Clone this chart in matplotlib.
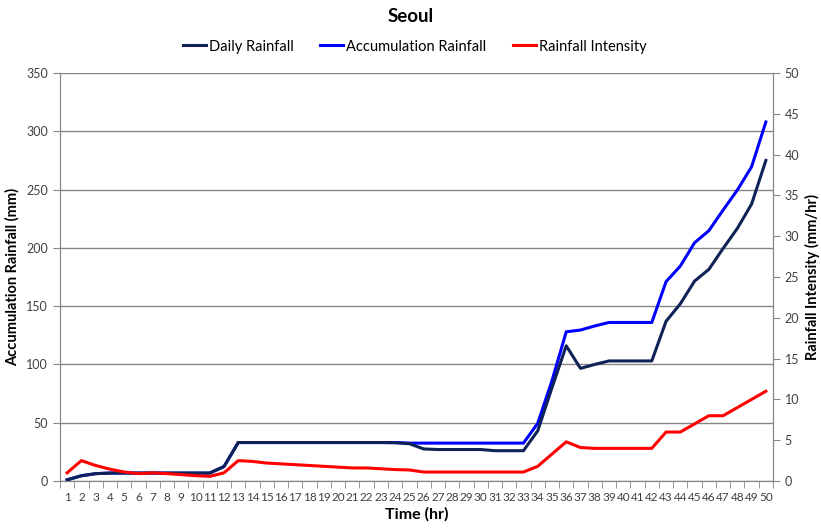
import numpy as np
import matplotlib.pyplot as plt
from matplotlib.ticker import MultipleLocator

plt.rcParams['font.family'] = ['Lato', 'DejaVu Sans']

hours = list(range(1, 51))

daily_rainfall = [1, 4.5, 6.3, 6.8, 6.8, 6.8, 6.8, 6.8, 6.8, 6.8,
                  6.8, 12.4, 33, 33, 33, 33, 33, 33, 33, 33,
                  33, 33, 33, 32.8, 32, 27.5, 27, 27, 27, 27,
                  26, 26, 26, 43, 80, 116, 96.6, 100, 103, 103,
                  103, 103, 137, 152, 171.5, 181.5, 199.5, 216.7, 237.6, 275]

accumulation_rainfall = [1, 4.5, 6.3, 6.8, 6.8, 6.8, 6.8, 6.8, 6.8, 6.8,
                         6.8, 12.4, 33, 33, 33, 33, 33, 33, 33, 33,
                         33, 33, 33, 33, 32.5, 32.5, 32.5, 32.5, 32.5, 32.5,
                         32.5, 32.5, 32.5, 49.5, 86, 128, 129.5, 133, 136, 136,
                         136, 136, 171, 184.4, 204.4, 214.7, 232.4, 249.6, 269.6, 308]

rainfall_intensity = [1.0, 2.5, 1.9, 1.45, 1.1, 0.9, 1.0, 0.9, 0.78, 0.65,
                      0.57, 1.0, 2.5, 2.4, 2.2, 2.1, 2.0, 1.9, 1.8, 1.7,
                      1.6, 1.6, 1.5, 1.4, 1.35, 1.1, 1.1, 1.1, 1.1, 1.1,
                      1.1, 1.1, 1.1, 1.8, 3.3, 4.8, 4.1, 4.0, 4.0, 4.0,
                      4.0, 4.0, 6.0, 6.0, 7.0, 8.0, 8.0, 9.0, 10.0, 11.0]

grey = '#868686'
txt = '#404040'

fig = plt.figure(figsize=(8.21, 5.29), dpi=100)
ax = fig.add_axes([60 / 821, 1 - 481 / 529, 713 / 821, 408 / 529])
ax2 = ax.twinx()

l1, = ax.plot(hours, daily_rainfall, color='#0F2258', lw=2.2, label='Daily Rainfall')
l2, = ax.plot(hours, accumulation_rainfall, color='#0000FF', lw=2.2, label='Accumulation Rainfall')
l3, = ax2.plot(hours, rainfall_intensity, color='#FF0000', lw=2.2, label='Rainfall Intensity')
# keep daily on top of accumulation like the original
l1.set_zorder(3)

ax.set_xlim(0.5, 50.5)
ax.set_ylim(0, 350)
ax2.set_ylim(0, 50)
ax.yaxis.set_major_locator(MultipleLocator(50))
ax2.yaxis.set_major_locator(MultipleLocator(5))

ax.set_xticks(hours)
ax.set_xticklabels([str(h) for h in hours], fontsize=8.5, color=txt)
ax.set_xticks(np.arange(0.5, 51, 1), minor=True)
ax.tick_params(axis='x', which='major', length=0, pad=8)
ax.tick_params(axis='x', which='minor', length=5, color=grey, direction='out')
ax.tick_params(axis='y', labelsize=9, labelcolor=txt, color=grey, length=5)
ax2.tick_params(axis='y', labelsize=9, labelcolor=txt, color=grey, length=5)

ax.grid(axis='y', color=grey, lw=1)
ax.set_axisbelow(True)

for a in (ax, ax2):
    a.spines['top'].set_visible(False)
    a.spines['left'].set_color(grey)
    a.spines['right'].set_color(grey)
    a.spines['bottom'].set_color(grey)

ax.set_xlabel('Time (hr)', fontsize=11.5, fontweight='bold', labelpad=3)
ax.set_ylabel('Accumulation Rainfall (mm)', fontsize=10.5, fontweight='bold', labelpad=5)
ax2.set_ylabel('Rainfall Intensity (mm/hr)', fontsize=10.5, fontweight='bold', labelpad=4)

fig.suptitle('Seoul', x=0.5, y=0.985, fontsize=13.5, fontweight='bold')
fig.legend(handles=[l1, l2, l3], loc='center', bbox_to_anchor=(0.505, 0.912), ncol=3,
           frameon=False, fontsize=10.5, handlelength=1.6, handletextpad=0.2, columnspacing=1.8)

fig.savefig('out.png', dpi=100)
